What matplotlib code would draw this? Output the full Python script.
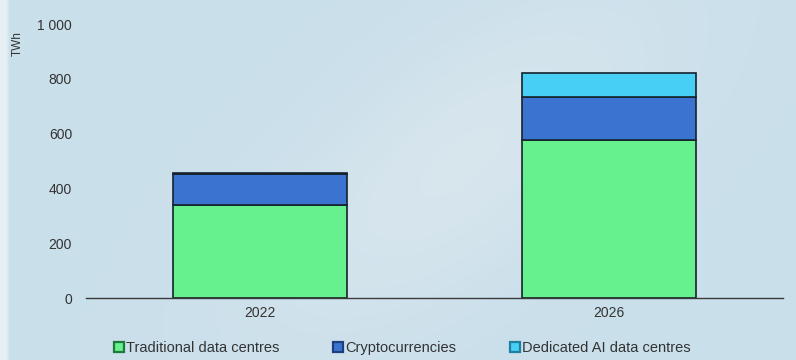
import numpy as np
import matplotlib
matplotlib.use("Agg")
import matplotlib.pyplot as plt
from matplotlib.lines import Line2D

plt.rcParams['font.family'] = ['Liberation Sans', 'DejaVu Sans']

years = ["2022", "2026"]
traditional = [340, 575]
crypto = [112, 157]
dedicated_ai = [5, 90]

series_names = ["Traditional data centres", "Cryptocurrencies", "Dedicated AI data centres"]
fill_colors = ["#66f08e", "#3b74d0", "#47cff5"]
marker_edges = ["#1f7a3a", "#1d3f80", "#1f7fa0"]
edge = "#15232b"


def drawBackground(fig):
    bg = fig.add_axes([0, 0, 1, 1], zorder=-10)
    h, w = 90, 200
    xx, yy = np.meshgrid(np.linspace(0, 1, w), np.linspace(0, 1, h))
    base = np.array([0.79, 0.875, 0.92])
    light = np.array([0.855, 0.905, 0.935])
    # broad pale cloud in the middle, tilted to the upper right
    d = ((xx - 0.58) + 0.35 * (yy - 0.45)) ** 2 / 0.04 + (yy - 0.45) ** 2 / 0.25
    t = np.exp(-d) * 0.85
    img = base[None, None, :] * (1 - t[..., None]) + light[None, None, :] * t[..., None]
    img[:, :2] = [0.9, 0.94, 0.96]
    bg.imshow(img, aspect="auto", extent=[0, 1, 0, 1], interpolation="bilinear")
    bg.axis("off")


def main():
    fig = plt.figure(figsize=(7.96, 3.6), dpi=100)
    drawBackground(fig)

    ax = fig.add_axes([86 / 796, 1 - 298 / 360, (783 - 86) / 796, (298 - 24) / 360])
    ax.patch.set_alpha(0)

    x = np.arange(len(years))
    bottom = np.zeros(len(years))
    for vals, col in zip([traditional, crypto, dedicated_ai], fill_colors):
        ax.bar(x, vals, width=0.5, bottom=bottom, color=col, edgecolor=edge, linewidth=1.2)
        bottom += np.array(vals)

    ax.set_xlim(-0.5, 1.5)
    ax.set_ylim(0, 1000)
    ax.set_xticks(x)
    ax.set_xticklabels(years)
    ax.set_yticks([0, 200, 400, 600, 800, 1000])
    ax.set_yticklabels(["0", "200", "400", "600", "800", "1 000"])
    ax.tick_params(length=0, labelsize=10, colors="#333333")
    ax.tick_params(axis="y", pad=10)
    ax.tick_params(axis="x", pad=6)
    for s in ["top", "right", "left"]:
        ax.spines[s].set_visible(False)
    ax.spines["bottom"].set_color("#3a3a3a")
    ax.spines["bottom"].set_linewidth(1.0)

    fig.text(18 / 796, 1 - 44 / 360, "TWh", rotation=90, ha="center", va="center",
             fontsize=8.5, color="#333333")

    handles = [Line2D([], [], linestyle="none", marker="s", markersize=6.5,
                      markerfacecolor=fc, markeredgecolor=ec, markeredgewidth=1.6)
               for fc, ec in zip(fill_colors, marker_edges)]
    fig.legend(handles, series_names, loc="center", bbox_to_anchor=(0.505, 1 - 348 / 360),
               ncol=3, frameon=False, fontsize=10.5, handletextpad=0.1,
               columnspacing=3.6, handlelength=0.8, labelcolor="#333333")

    fig.savefig("out.png", dpi=100)


main()
